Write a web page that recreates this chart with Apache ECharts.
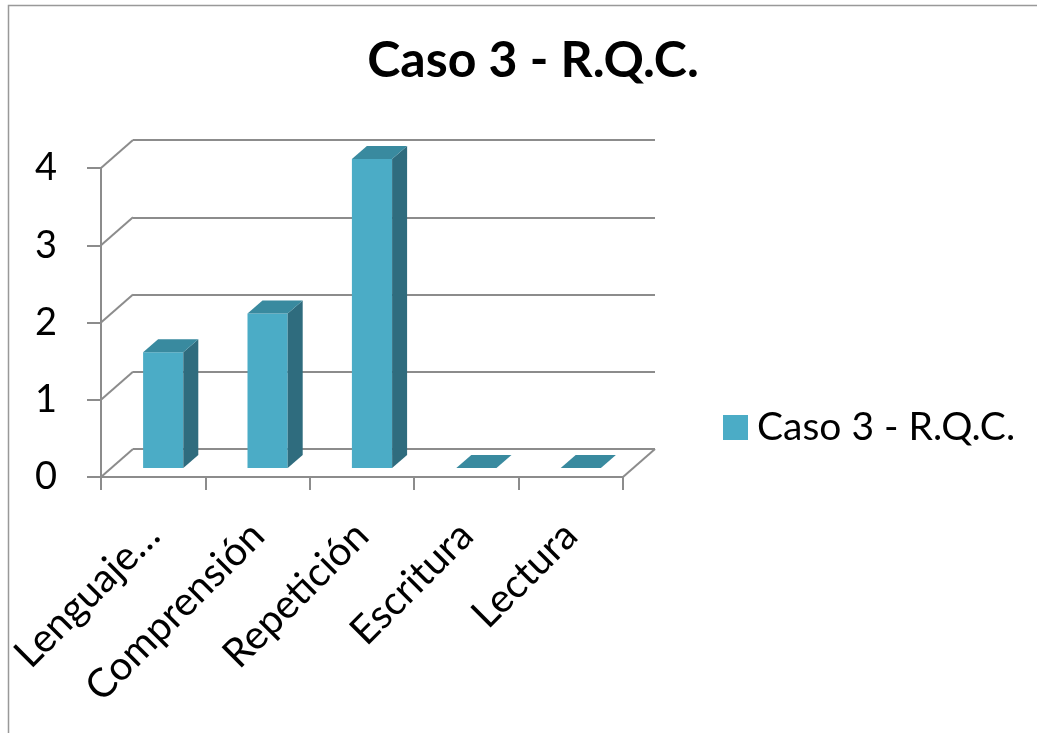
<!DOCTYPE html>
<html><head><meta charset="utf-8">
<script src="https://cdn.jsdelivr.net/npm/echarts@6/dist/echarts.min.js"></script>
<style>html,body{margin:0;padding:0;background:#fff}#c{width:1037px;height:733px}</style>
</head><body><div id="c"></div>
<script>
const categories = ['Lenguaje…', 'Comprensión', 'Repetición', 'Escritura', 'Lectura'];
const values = [1.5, 2, 4, 0, 0];
const yTicks = [0, 1, 2, 3, 4];
const seriesName = 'Caso 3 - R.Q.C.';
const titleText = 'Caso 3 - R.Q.C.';

const FONT = 'Lato';
const DEPTH = [32, -28];
const BAR_OFF = [10, -9];
const BAR_DEPTH = [15, -13];
const FRONT = '#4bacc6', SIDE = '#2f6c7e', TOPC = '#398a9f';
const GRID_C = '#8c8c8c';

const chart = echarts.init(document.getElementById('c'), null, {renderer: 'canvas'});

const option = {
  animation: false,
  backgroundColor: '#fff',
  title: {
    text: titleText, left: 528, top: 31, textAlign: 'center',
    textStyle: {fontFamily: FONT, fontSize: 50, fontWeight: 'bold', color: '#000'}
  },
  legend: {
    data: [{name: seriesName, icon: 'rect', itemStyle: {color: FRONT}}],
    left: 718, top: 403, itemWidth: 25, itemHeight: 25, itemGap: 10,
    textStyle: {fontFamily: FONT, fontSize: 39, color: '#000', padding: [0, 0, 0, 4]}
  },
  graphic: [{type: 'rect', shape: {x: 8.5, y: 5.5, width: 1200, height: 900}, style: {fill: 'none', stroke: '#999', lineWidth: 1.5}, silent: true}],
  grid: [
    {left: 101, right: 1037 - 623, top: 168, bottom: 733 - 477},
    {left: 101 + DEPTH[0], right: 1037 - 623 - DEPTH[0], top: 168 + DEPTH[1], bottom: 733 - 477 - DEPTH[1]}
  ],
  xAxis: [
    {type: 'category', gridIndex: 0, data: categories, boundaryGap: true,
     axisLine: {lineStyle: {color: GRID_C, width: 2}},
     axisTick: {show: true, length: 13, interval: 0, lineStyle: {color: GRID_C, width: 2}},
     axisLabel: {interval: 0, rotate: 45, fontFamily: FONT, fontSize: 40, color: '#000', margin: 52}},
    {type: 'category', gridIndex: 1, data: categories, show: false}
  ],
  yAxis: [
    {type: 'value', gridIndex: 0, min: 0, max: 4, interval: 1,
     axisLine: {show: true, lineStyle: {color: GRID_C, width: 2}},
     axisTick: {show: true, length: 14, lineStyle: {color: GRID_C, width: 2}},
     splitLine: {show: false},
     axisLabel: {fontFamily: FONT, fontSize: 38, color: '#000', margin: 44}},
    {type: 'value', gridIndex: 1, min: 0, max: 4, interval: 1,
     axisLine: {show: false}, axisTick: {show: false}, axisLabel: {show: false},
     splitLine: {show: true, lineStyle: {color: GRID_C, width: 2}}}
  ],
  series: [
    {
      type: 'custom', name: 'walls', xAxisIndex: 0, yAxisIndex: 0, silent: true,
      data: yTicks.map(v => [0, v]),
      encode: {x: 0, y: 1},
      renderItem: function (params, api) {
        const v = api.value(1);
        const p = api.coord([0, v]);
        const band = api.size([1, 0])[0];
        const xl = p[0] - band / 2;
        const children = [{type: 'line', shape: {x1: xl, y1: p[1], x2: xl + DEPTH[0], y2: p[1] + DEPTH[1]}, style: {stroke: GRID_C, lineWidth: 2}}];
        if (v === 0) {
          const pr = api.coord([categories.length - 1, 0]);
          const xr = pr[0] + band / 2;
          children.push({type: 'line', shape: {x1: xr, y1: pr[1], x2: xr + DEPTH[0], y2: pr[1] + DEPTH[1]}, style: {stroke: GRID_C, lineWidth: 2}});
        }
        return {type: 'group', children: children};
      }
    },
    {
      type: 'custom', name: seriesName, xAxisIndex: 0, yAxisIndex: 0,
      itemStyle: {color: FRONT},
      data: values.map((v, i) => [i, v]),
      encode: {x: 0, y: 1},
      renderItem: function (params, api) {
        const i = api.value(0), v = api.value(1);
        const base = api.coord([i, 0]);
        const top = api.coord([i, v]);
        const band = api.size([1, 0])[0];
        const w = band * 0.385;
        const x0 = base[0] - w / 2 + BAR_OFF[0], x1 = x0 + w;
        const yb = base[1] + BAR_OFF[1], yt = top[1] + BAR_OFF[1];
        const dx = BAR_DEPTH[0], dy = BAR_DEPTH[1];
        const children = [];
        if (v > 0) {
          children.push({type: 'rect', shape: {x: x0, y: yt, width: w, height: yb - yt}, style: {fill: FRONT}});
          children.push({type: 'polygon', shape: {points: [[x1, yb], [x1, yt], [x1 + dx, yt + dy], [x1 + dx, yb + dy]]}, style: {fill: SIDE}});
        }
        children.push({type: 'polygon', shape: {points: [[x0, yt], [x1, yt], [x1 + dx, yt + dy], [x0 + dx, yt + dy]]}, style: {fill: TOPC}});
        return {type: 'group', children: children};
      }
    }
  ]
};
chart.setOption(option);
</script>
</body></html>
